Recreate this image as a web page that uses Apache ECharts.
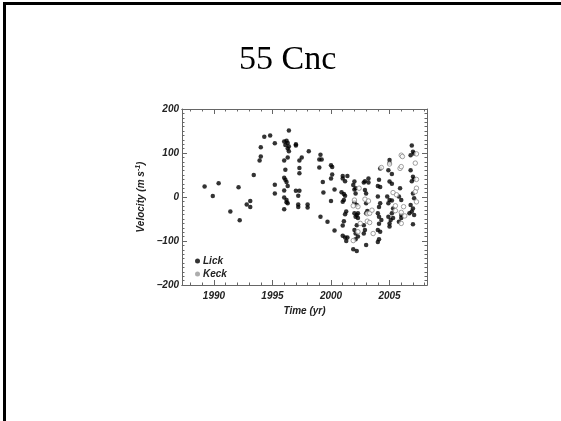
<!DOCTYPE html>
<html>
<head>
<meta charset="utf-8">
<script src="https://cdn.jsdelivr.net/npm/echarts@6/dist/echarts.min.js"></script>
<style>
  html, body { margin: 0; padding: 0; background: #fff; }
  #chart { width: 561px; height: 421px; }
</style>
</head>
<body>
<div id="chart"></div>
<script>
// Lick radial velocities (year, m/s)
const lickYear = [1989.2, 1989.9, 1990.4, 1991.4, 1992.1, 1992.2, 1992.8, 1993.1, 1993.1, 1993.4,
  1993.9, 1994.0, 1994.0, 1994.3, 1994.8, 1995.2, 1995.2, 1995.2, 1996.4, 1996.0,
  1996.2, 1996.3, 1996.1, 1996.4, 1996.3, 1996.4, 1996.3, 1996.0, 1996.1, 1996.0,
  1996.1, 1996.2, 1996.3, 1996.0, 1996.0, 1996.2, 1996.3, 1996.0, 1996.2, 1997.0,
  1997.0, 1997.3, 1997.5, 1997.3, 1997.3, 1997.0, 1997.3, 1997.2, 1997.2, 1997.2,
  1998.0, 1998.0, 1998.1, 1999.1, 1999.0, 1999.2, 1999.0, 1999.3, 1999.35, 1999.1,
  1999.7, 2000.0, 2000.1, 2000.1, 2000.0, 2000.3, 2000.0, 2000.3, 2001.0, 2001.2,
  2001.4, 2001.0, 2000.9, 2001.1, 2001.1, 2001.0, 2001.2, 2001.3, 2001.2, 2001.1,
  2001.0, 2001.0, 2001.2, 2001.4, 2001.3, 2002.0, 2001.9, 2002.1, 2002.0, 2002.1,
  2002.0, 2002.2, 2002.0, 2002.2, 2002.1, 2002.3, 2002.3, 2002.2, 2002.0, 2002.1,
  2002.3, 2002.1, 2001.9, 2002.2, 2002.9, 2002.8, 2003.2, 2003.2, 2002.9, 2003.0,
  2003.0, 2003.1, 2003.0, 2002.8, 2002.9, 2002.8, 2003.0, 2004.1, 2004.2, 2004.0,
  2004.2, 2004.0, 2004.2, 2004.1, 2004.0, 2004.1, 2004.3, 2004.1, 2004.0, 2004.2,
  2004.1, 2004.0, 2005.0, 2005.0, 2004.9, 2005.2, 2005.0, 2005.2, 2004.8, 2005.0,
  2004.9, 2005.2, 2005.3, 2004.9, 2005.1, 2005.0, 2005.0, 2005.2, 2005.3, 2005.9,
  2005.8, 2006.0, 2006.0, 2006.0, 2005.8, 2006.9, 2007.0, 2006.8, 2007.1, 2006.8,
  2007.0, 2007.1, 2006.9, 2007.0, 2007.1, 2006.8, 2007.0, 2006.9, 2006.7, 2007.1,
  2007.0];
const lickVel = [24, 2, 31, -33, 22, -53, -17, -9, -23, 50,
  83, 92, 113, 137, 140, 122, 28, 8, 151, 126,
  128, 123, 118, 115, 110, 104, 90, 83, 62, 44,
  39, 34, 25, 15, -1, -7, -14, -28, -12, 120,
  117, 83, 90, 66, 54, 14, 14, 3, -17, -23,
  -17, -24, 104, 96, 85, 85, 67, 34, 10, -45,
  -56, 72, 68, 51, 42, 17, -9, -76, 48, 36,
  48, 42, 11, 7, -7, -11, 3, -33, -39, -55,
  -65, -88, -92, -92, -100, 35, 27, 20, 17, 8,
  -12, -18, -37, -41, -45, -48, -37, -64, -75, -83,
  -90, -96, -119, -123, 36, 33, 42, 33, 16, 8,
  -14, -32, -37, -64, -75, -83, -109, 39, 65, 25,
  23, 1, -14, -23, -37, -45, -52, -61, -75, -79,
  -96, -102, 84, 77, 61, 52, 35, 30, 1, -7,
  -14, -8, -26, -45, -52, -60, -67, -37, -48, 20,
  1, -7, -41, -48, -56, 117, 103, 95, 99, 61,
  46, 41, 36, 8, -3, -18, -26, -33, -37, -41,
  -62];

// Keck radial velocities (year, m/s)
const keckYear = [2002.0, 2002.3, 2001.9, 2002.3, 2002.9, 2003.2, 2003.1, 2003.1, 2003.3, 2003.6,
  2003.3, 2004.3, 2005.0, 2005.3, 2005.5, 2005.5, 2006.0, 2006.1, 2005.9, 2006.0,
  2006.2, 2005.6, 2006.0, 2006.3, 2007.3, 2007.2, 2007.3, 2007.2, 2007.3, 2006.0,
  2002.5, 2001.9, 2002.4, 2003.5, 2007.3];
const keckVel = [-7, -22, -99, -79, -5, -9, -38, -55, -58, -83,
  -37, 67, 75, 10, -31, -20, 95, 92, 65, 69,
  -22, 5, -60, -43, 98, 77, 20, 12, -11, -35,
  -60, -20, 20, -30, 40];

const yearMajor = [1990, 1995, 2000, 2005];
const yearMinor = [1988, 1989, 1990, 1991, 1992, 1993, 1994, 1995, 1996, 1997, 1998,
  1999, 2000, 2001, 2002, 2003, 2004, 2005, 2006, 2007, 2008];

const xMin = 1987.27, xMax = 2008.2;
const labelFont = { fontFamily: 'Liberation Sans', fontWeight: 'bold', fontStyle: 'italic', fontSize: 10, color: '#222' };
const lineStyle = { color: '#666', width: 1 };

function zip(a, b) {
  let out = [];
  for (let i = 0; i < a.length; i++) out.push([a[i], b[i]]);
  return out;
}

function tickAxis(pos, values, len) {
  return {
    type: 'value', position: pos, min: xMin, max: xMax,
    axisLine: { show: true, onZero: false, lineStyle: lineStyle },
    axisTick: { show: true, inside: true, length: len, customValues: values, lineStyle: lineStyle },
    axisLabel: { show: false },
    splitLine: { show: false }
  };
}

let myChart = echarts.init(document.getElementById('chart'));
let option = {
  backgroundColor: '#fff',
  animation: false,
  title: {
    text: '55 Cnc',
    left: 234,
    top: 38,
    textStyle: { fontFamily: 'Liberation Serif', fontWeight: 'normal', fontSize: 34, color: '#000' }
  },
  graphic: [
    { type: 'rect', shape: { x: 3, y: 2, width: 3, height: 419 }, style: { fill: '#000' } },
    { type: 'rect', shape: { x: 3, y: 2, width: 558, height: 3 }, style: { fill: '#000' } }
  ],
  grid: { left: 182, right: 134, top: 109, bottom: 136 },
  legend: {
    orient: 'vertical',
    left: 190,
    top: 251,
    itemWidth: 5,
    itemHeight: 5,
    itemGap: 3,
    textStyle: Object.assign({}, labelFont, { fontSize: 10, padding: [0, 0, 0, -2] }),
    data: [
      { name: 'Lick', icon: 'circle', itemStyle: { color: '#000' } },
      { name: 'Keck', icon: 'circle', itemStyle: { color: '#999', borderWidth: 0 } }
    ]
  },
  xAxis: [
    {
      type: 'value', position: 'bottom', min: xMin, max: xMax,
      name: 'Time (yr)', nameLocation: 'middle', nameGap: 21,
      nameTextStyle: labelFont,
      axisLine: { onZero: false, lineStyle: lineStyle },
      axisTick: { inside: true, length: 5, customValues: yearMajor, lineStyle: lineStyle },
      axisLabel: Object.assign({ customValues: yearMajor, margin: 6, formatter: v => String(v) }, labelFont),
      splitLine: { show: false }
    },
    tickAxis('top', yearMajor, 5),
    tickAxis('bottom', yearMinor, 2.5),
    tickAxis('top', yearMinor, 2.5)
  ],
  yAxis: [
    {
      type: 'value', position: 'left', min: -200, max: 200, interval: 100,
      name: 'Velocity (m s{sup|-1})', nameLocation: 'middle', nameGap: 34,
      nameTextStyle: Object.assign({}, labelFont, {
        rich: { sup: Object.assign({}, labelFont, { fontSize: 7, verticalAlign: 'top', padding: [0, 0, 6, 0] }) }
      }),
      axisLine: { show: true, onZero: false, lineStyle: lineStyle },
      axisTick: { show: true, inside: true, length: 5, lineStyle: lineStyle },
      minorTick: { show: true, splitNumber: 10, length: 2.5, lineStyle: lineStyle },
      axisLabel: Object.assign({ margin: 3, formatter: v => String(v).replace('-', '\u2212') }, labelFont),
      splitLine: { show: false }
    },
    {
      type: 'value', position: 'right', min: -200, max: 200, interval: 100,
      axisLine: { show: true, onZero: false, lineStyle: lineStyle },
      axisTick: { show: true, inside: true, length: 5, lineStyle: lineStyle },
      minorTick: { show: true, splitNumber: 10, length: 2.5, lineStyle: lineStyle },
      axisLabel: { show: false },
      splitLine: { show: false }
    }
  ],
  series: [
    {
      name: 'Lick', type: 'scatter', xAxisIndex: 0, yAxisIndex: 0,
      symbol: 'circle', symbolSize: 4.5,
      itemStyle: { color: '#000' },
      data: zip(lickYear, lickVel)
    },
    {
      name: 'Keck', type: 'scatter', xAxisIndex: 0, yAxisIndex: 0,
      symbol: 'circle', symbolSize: 4.5,
      itemStyle: { color: '#fff', borderColor: '#888', borderWidth: 1 },
      data: zip(keckYear, keckVel)
    }
  ]
};
myChart.setOption(option);
</script>
</body>
</html>
